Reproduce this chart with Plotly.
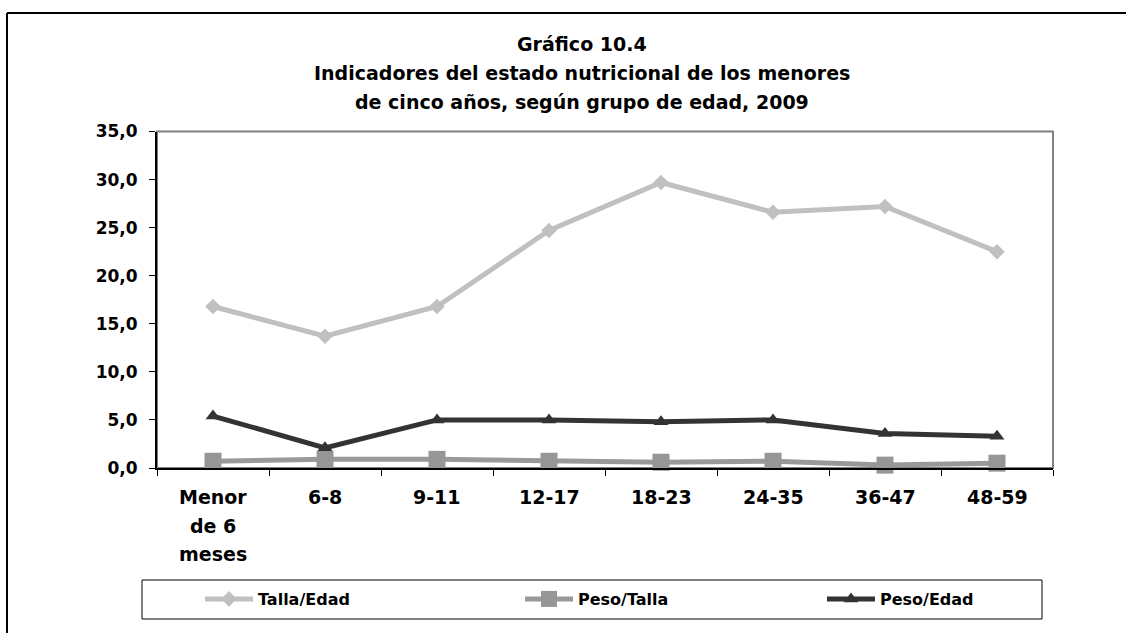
import plotly.graph_objects as go

W, H = 1126, 633

# Age groups (x categories) and indicator values (%)
categories = ["Menor<br>de 6<br>meses", "6-8", "9-11", "12-17", "18-23", "24-35", "36-47", "48-59"]
talla_edad = [16.8, 13.7, 16.8, 24.7, 29.7, 26.6, 27.2, 22.5]
peso_talla = [0.7, 0.9, 0.9, 0.7, 0.6, 0.7, 0.3, 0.5]
peso_edad = [5.4, 2.1, 5.0, 5.0, 4.8, 5.0, 3.6, 3.3]
y_ticks = [0, 5, 10, 15, 20, 25, 30, 35]

title_lines = [
    "Gráfico 10.4",
    "Indicadores del estado nutricional de los menores",
    "de cinco años, según grupo de edad, 2009",
]

FONT = "DejaVu Sans"


def px_x(p):
    return p / W


def px_y(p):
    return 1 - p / H


fig = go.Figure()

fig.add_trace(go.Scatter(
    x=categories, y=talla_edad, name="<b>Talla/Edad</b>", mode="lines+markers",
    line=dict(color="#C0C0C0", width=5),
    marker=dict(symbol="diamond", size=12, color="#C0C0C0"),
    cliponaxis=False, legend="legend",
))
fig.add_trace(go.Scatter(
    x=categories, y=peso_talla, name="<b>Peso/Talla</b>", mode="lines+markers",
    line=dict(color="#999999", width=5),
    marker=dict(symbol="square", size=17, color="#969696"),
    cliponaxis=False, legend="legend2",
))
fig.add_trace(go.Scatter(
    x=categories, y=peso_edad, name="<b>Peso/Edad</b>", mode="lines+markers",
    line=dict(color="#333333", width=5),
    marker=dict(symbol="triangle-up", size=13, color="#333333"),
    cliponaxis=False, legend="legend3",
))

# Category labels below the axis, one line per row
annotations = []
for i, lab in enumerate(categories):
    for j, part in enumerate(lab.split("<br>")):
        annotations.append(dict(
            x=i, xref="x", y=px_y(497 + 28.5 * j), yref="paper",
            text="<b>%s</b>" % part, showarrow=False,
            xanchor="center", yanchor="middle",
            font=dict(family=FONT, size=19, color="#000000"),
        ))

# Title block
for j, line in enumerate(title_lines):
    annotations.append(dict(
        x=px_x(582), xref="paper", y=px_y(44 + 29 * j), yref="paper",
        text="<b>%s</b>" % line, showarrow=False,
        xanchor="center", yanchor="middle",
        font=dict(family=FONT, size=19, color="#000000"),
    ))

shapes = [
    # outer chart frame
    dict(type="line", xref="paper", yref="paper", x0=px_x(7), x1=1.02,
         y0=px_y(13), y1=px_y(13), line=dict(color="#000000", width=2)),
    dict(type="line", xref="paper", yref="paper", x0=px_x(7), x1=px_x(7),
         y0=-0.02, y1=px_y(13), line=dict(color="#000000", width=2)),
    # plot area border (top and right in grey)
    dict(type="rect", xref="x domain", yref="y domain", x0=0, x1=1, y0=0, y1=1,
         line=dict(color="#808080", width=2), layer="below"),
    # legend box
    dict(type="rect", xref="paper", yref="paper", x0=px_x(142), x1=px_x(1042),
         y0=px_y(619), y1=px_y(580), line=dict(color="#000000", width=1)),
]

legend_common = dict(
    orientation="h", yanchor="middle", y=px_y(599), xanchor="left",
    font=dict(family=FONT, size=16, color="#000000"),
    bgcolor="rgba(0,0,0,0)", borderwidth=0, itemwidth=48,
    itemclick=False, itemdoubleclick=False,
)

fig.update_layout(
    width=W, height=H,
    margin=dict(l=0, r=0, t=0, b=0),
    paper_bgcolor="#FFFFFF", plot_bgcolor="#FFFFFF",
    separators=",.",
    font=dict(family=FONT, color="#000000"),
    showlegend=True,
    legend=dict(x=px_x(200), **legend_common),
    legend2=dict(x=px_x(520), **legend_common),
    legend3=dict(x=px_x(822), **legend_common),
    annotations=annotations,
    shapes=shapes,
    xaxis=dict(
        domain=[px_x(157), px_x(1053)],
        type="category", range=[-0.5, 7.5],
        showline=True, linecolor="#000000", linewidth=2,
        ticks="outside", tickson="boundaries", ticklen=6, tickcolor="#000000", tickwidth=1,
        showticklabels=False, showgrid=False, zeroline=False, fixedrange=True,
    ),
    yaxis=dict(
        domain=[px_y(468), px_y(131.5)],
        range=[0, 35], tickvals=y_ticks, tickformat=".1f",
        showline=True, linecolor="#000000", linewidth=2,
        ticks="outside", ticklen=6, tickcolor="#000000", tickwidth=1,
        ticklabelstandoff=8,
        tickfont=dict(family=FONT, size=17, color="#000000", weight="bold"),
        showgrid=False, zeroline=False, fixedrange=True, automargin=False,
    ),
)

fig.write_html("out.html")
